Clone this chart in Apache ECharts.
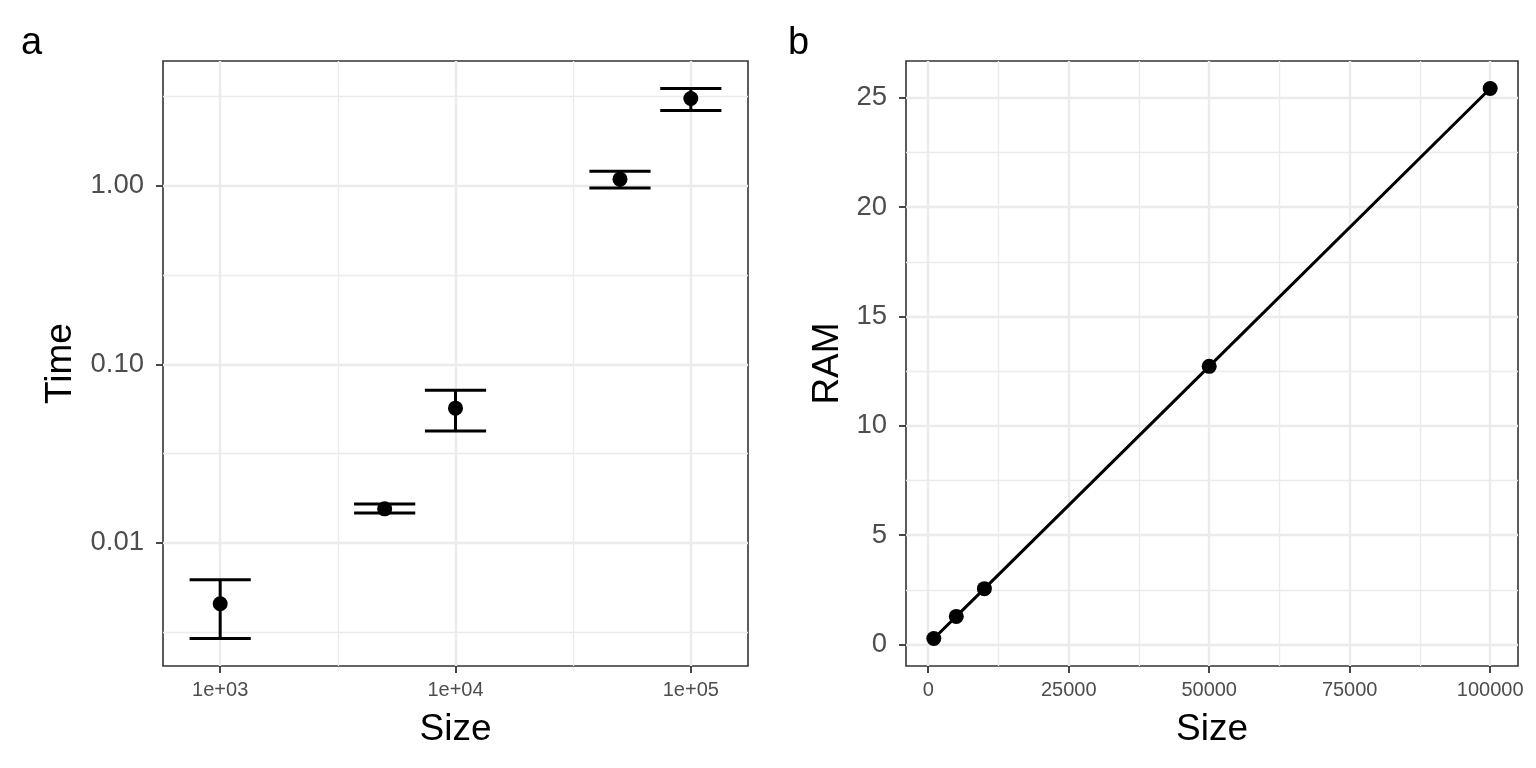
<!DOCTYPE html>
<html><head><meta charset="utf-8">
<script src="https://cdn.jsdelivr.net/npm/echarts@6/dist/echarts.min.js"></script>
<style>html,body{margin:0;padding:0;background:#fff}#chart{width:1536px;height:768px}</style>
</head><body><div id="chart"></div>
<script>
// ---- data ----
const sizes = [1000, 5000, 10000, 50000, 100000];
const timeMean = [0.00456, 0.0155, 0.0568, 1.09, 3.085];
const timeLow = [0.00291, 0.0147, 0.0423, 0.971, 2.646];
const timeHigh = [0.00621, 0.0165, 0.0716, 1.208, 3.51];
const ramValues = [0.27, 1.28, 2.55, 12.72, 25.43];

// ---- ticks ----
const sizeLogTicks = [1000, 10000, 100000];
const sizeLogTickLabels = ['1e+03', '1e+04', '1e+05'];
const timeTicks = [0.01, 0.1, 1];
const timeTickLabels = ['0.01', '0.10', '1.00'];
const sizeLinTicks = [0, 25000, 50000, 75000, 100000];
const sizeLinTickLabels = ['0', '25000', '50000', '75000', '100000'];
const ramTicks = [0, 5, 10, 15, 20, 25];
const ramTickLabels = ['0', '5', '10', '15', '20', '25'];

const errWidthLog = 0.26; // error bar cap width, in log10 units of Size

// minor breaks (midpoints between majors, in transformed space)
function logMid(arr) { const out = [Math.sqrt(arr[0] * arr[0] / 10)]; for (let i = 1; i < arr.length; i++) out.push(Math.sqrt(arr[i - 1] * arr[i])); out.push(Math.sqrt(arr[arr.length - 1] * arr[arr.length - 1] * 10)); return out; }
function linMid(arr) { const out = []; for (let i = 1; i < arr.length; i++) out.push((arr[i - 1] + arr[i]) / 2); return out; }

function expand(lo, hi, f) { const r = hi - lo; return [lo - f * r, hi + f * r]; }
const lx = expand(Math.log10(Math.min(...sizes)) - errWidthLog / 2, Math.log10(Math.max(...sizes)) + errWidthLog / 2, 0.05);
const ly = expand(Math.log10(Math.min(...timeLow)), Math.log10(Math.max(...timeHigh)), 0.05);
const aX = [Math.pow(10, lx[0]), Math.pow(10, lx[1])];
const aY = [Math.pow(10, ly[0]), Math.pow(10, ly[1])];
const bX = expand(Math.min(...sizes), Math.max(...sizes), 0.05);
const bY = expand(Math.min(...ramValues), Math.max(...ramValues), 0.05);

const FONT = "'Liberation Sans', Arial, sans-serif";
const minorInRange = (arr, r) => arr.filter(v => v > r[0] && v < r[1]);

function labelFor(ticks, labels) {
  return function (v) {
    let best = 0, bd = Infinity;
    for (let i = 0; i < ticks.length; i++) { const d = Math.abs(ticks[i] - v) / (ticks[i] === 0 ? 1 : Math.abs(ticks[i])); if (d < bd) { bd = d; best = i; } }
    return labels[best];
  };
}

function majorAxis(type, gridIndex, range, ticks, labels, isX, extra) {
  return Object.assign({
    type: type, gridIndex: gridIndex, min: range[0], max: range[1],
    axisLine: { show: false, onZero: false },
    axisTick: { show: true, inside: false, length: 7, customValues: ticks, lineStyle: { color: '#333333', width: 1.8 } },
    axisLabel: {
      show: true, customValues: ticks, formatter: labelFor(ticks, labels),
      color: '#4D4D4D', fontFamily: FONT, fontSize: isX ? 20 : 27.5, margin: isX ? 14 : 19,
      showMinLabel: true, showMaxLabel: true
    },
    splitLine: { show: true, lineStyle: { color: '#EBEBEB', width: 2.4 } },
    minorSplitLine: { show: false },
    nameTextStyle: { color: '#000', fontFamily: FONT, fontSize: 37 }
  }, extra || {});
}
function minorAxis(type, gridIndex, range, vals, position) {
  return {
    type: type, gridIndex: gridIndex, min: range[0], max: range[1], position: position,
    axisLine: { show: false, onZero: false },
    axisTick: { show: false, customValues: vals },
    axisLabel: { show: false, customValues: vals },
    splitLine: { show: true, lineStyle: { color: '#EBEBEB', width: 1.3 } }
  };
}

const chart = echarts.init(document.getElementById('chart'), null, { renderer: 'canvas' });
const option = {
  backgroundColor: '#ffffff',
  animation: false,
  title: [
    { text: 'a', left: 16, top: 20, textStyle: { fontFamily: FONT, fontSize: 38, fontWeight: 'normal', color: '#000' } },
    { text: 'b', left: 783, top: 20, textStyle: { fontFamily: FONT, fontSize: 38, fontWeight: 'normal', color: '#000' } }
  ],
  grid: [
    { left: 163, top: 61, width: 585, height: 605, show: true, borderColor: '#333333', borderWidth: 1.6, backgroundColor: 'transparent', containLabel: false },
    { left: 906, top: 61, width: 612, height: 605, show: true, borderColor: '#333333', borderWidth: 1.6, backgroundColor: 'transparent', containLabel: false }
  ],
  xAxis: [
    minorAxis('log', 0, aX, minorInRange(logMid(sizeLogTicks), aX), 'top'),
    majorAxis('log', 0, aX, sizeLogTicks, sizeLogTickLabels, true, { position: 'bottom', name: 'Size', nameLocation: 'middle', nameGap: 45 }),
    minorAxis('value', 1, bX, minorInRange(linMid(sizeLinTicks), bX), 'top'),
    majorAxis('value', 1, bX, sizeLinTicks, sizeLinTickLabels, true, { position: 'bottom', name: 'Size', nameLocation: 'middle', nameGap: 45 })
  ],
  yAxis: [
    minorAxis('log', 0, aY, minorInRange(logMid(timeTicks), aY), 'right'),
    majorAxis('log', 0, aY, timeTicks, timeTickLabels, false, { position: 'left', name: 'Time', nameLocation: 'middle', nameGap: 84 }),
    minorAxis('value', 1, bY, minorInRange(linMid(ramTicks), bY), 'right'),
    majorAxis('value', 1, bY, ramTicks, ramTickLabels, false, { position: 'left', name: 'RAM', nameLocation: 'middle', nameGap: 60 })
  ],
  series: [
    {
      type: 'custom', xAxisIndex: 1, yAxisIndex: 1, z: 3,
      data: sizes.map((s, i) => [s, timeLow[i], timeHigh[i]]),
      encode: { x: 0, y: [1, 2] },
      renderItem: function (params, api) {
        const x = api.value(0), lo = api.value(1), hi = api.value(2);
        const k = Math.pow(10, errWidthLog / 2);
        const pLo = api.coord([x, lo]), pHi = api.coord([x, hi]);
        const cl = api.coord([x / k, lo]), cr = api.coord([x * k, lo]);
        const hl = api.coord([x / k, hi]), hr = api.coord([x * k, hi]);
        const style = { stroke: '#000', lineWidth: 3, fill: null };
        return { type: 'group', children: [
          { type: 'line', shape: { x1: pLo[0], y1: pLo[1], x2: pHi[0], y2: pHi[1] }, style: style },
          { type: 'line', shape: { x1: cl[0], y1: cl[1], x2: cr[0], y2: cr[1] }, style: style },
          { type: 'line', shape: { x1: hl[0], y1: hl[1], x2: hr[0], y2: hr[1] }, style: style }
        ] };
      }
    },
    {
      type: 'scatter', xAxisIndex: 1, yAxisIndex: 1, z: 4,
      data: sizes.map((s, i) => [s, timeMean[i]]),
      symbol: 'circle', symbolSize: 15, itemStyle: { color: '#000', opacity: 1 }
    },
    {
      type: 'line', xAxisIndex: 3, yAxisIndex: 3, z: 4,
      data: sizes.map((s, i) => [s, ramValues[i]]),
      symbol: 'circle', symbolSize: 15, showSymbol: true,
      lineStyle: { color: '#000', width: 3 }, itemStyle: { color: '#000', opacity: 1 }
    }
  ]
};
chart.setOption(option);
</script>
</body></html>
